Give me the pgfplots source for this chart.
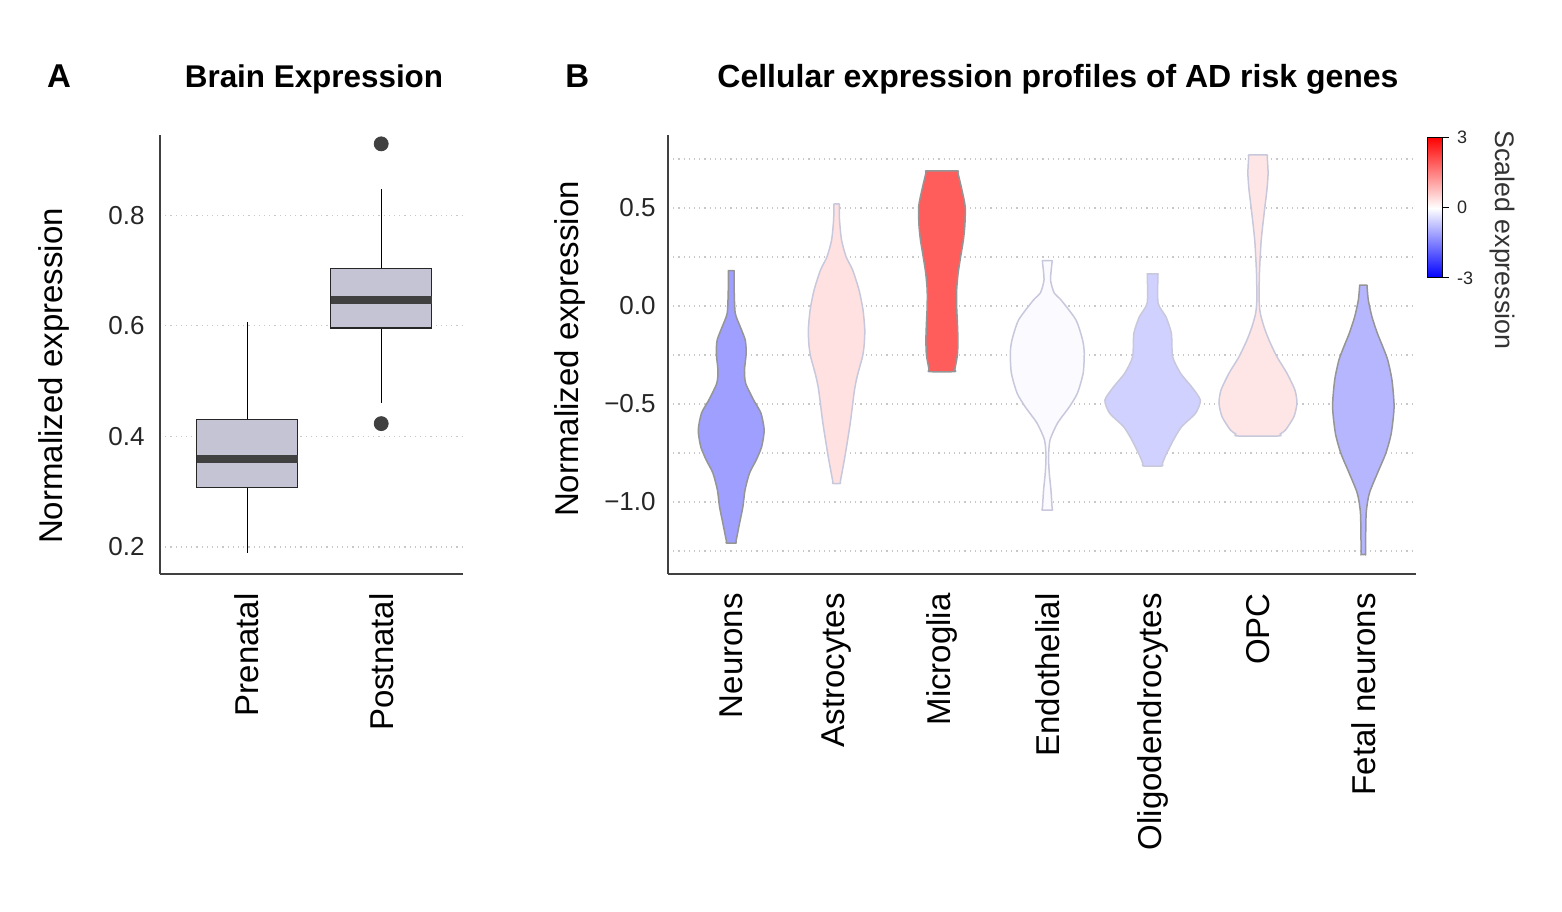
\documentclass[border=0pt]{standalone}
\usepackage{fontspec}
\setmainfont{Liberation Sans}
\usepackage{pgfplots}
\pgfplotsset{compat=1.18}
\usepackage{pgfplotstable}
\usepgfplotslibrary{statistics}

\definecolor{axisgray}{HTML}{404040}
\definecolor{boxfill}{HTML}{C5C4D4}
\definecolor{gridgray}{HTML}{C8C8C8}
\definecolor{edgegray}{HTML}{959595}
\definecolor{edgelight}{HTML}{C8C8DC}
\definecolor{cNeur}{HTML}{9E9FFE}
\definecolor{cAstro}{HTML}{FFE1E1}
\definecolor{cMicro}{HTML}{FF5C5C}
\definecolor{cEndo}{HTML}{FAFAFF}
\definecolor{cOligo}{HTML}{D1D1FF}
\definecolor{cOPC}{HTML}{FFE6E6}
\definecolor{cFetal}{HTML}{B6B6FF}

% violin outlines: y and offset d from the centre
% (top centre, right side down, left side up, back to top centre)
\pgfplotstableread{
y d
0.180 0.000
0.180 0.027
0.170 0.027
0.082 0.028
-0.036 0.038
-0.105 0.085
-0.173 0.133
-0.241 0.142
-0.327 0.126
-0.394 0.137
-0.480 0.213
-0.546 0.282
-0.633 0.313
-0.718 0.289
-0.786 0.237
-0.852 0.174
-0.939 0.131
-1.024 0.111
-1.109 0.079
-1.199 0.046
-1.209 0.045
-1.209 -0.045
-1.199 -0.046
-1.109 -0.079
-1.024 -0.111
-0.939 -0.131
-0.852 -0.174
-0.786 -0.237
-0.718 -0.289
-0.633 -0.313
-0.546 -0.282
-0.480 -0.213
-0.394 -0.137
-0.327 -0.126
-0.241 -0.142
-0.173 -0.133
-0.105 -0.085
-0.036 -0.038
0.082 -0.028
0.170 -0.027
0.180 -0.027
0.180 0.000
}\neurons
\pgfplotstableread{
y d
0.520 0.000
0.520 0.026
0.510 0.026
0.439 0.028
0.337 0.047
0.252 0.090
0.184 0.152
0.082 0.213
-0.020 0.251
-0.122 0.268
-0.199 0.262
-0.259 0.246
-0.352 0.199
-0.429 0.170
-0.597 0.130
-0.769 0.079
-0.895 0.036
-0.905 0.035
-0.905 -0.035
-0.895 -0.036
-0.769 -0.079
-0.597 -0.130
-0.429 -0.170
-0.352 -0.199
-0.259 -0.246
-0.199 -0.262
-0.122 -0.268
-0.020 -0.251
0.082 -0.213
0.184 -0.152
0.252 -0.090
0.337 -0.047
0.439 -0.028
0.510 -0.026
0.520 -0.026
0.520 0.000
}\astro
\pgfplotstableread{
y d
0.689 0.000
0.689 0.150
0.679 0.152
0.592 0.190
0.507 0.221
0.413 0.218
0.337 0.204
0.252 0.178
0.168 0.154
0.082 0.140
-0.004 0.140
-0.087 0.147
-0.173 0.152
-0.250 0.147
-0.325 0.122
-0.335 0.120
-0.335 -0.120
-0.325 -0.122
-0.250 -0.147
-0.173 -0.152
-0.087 -0.147
-0.004 -0.140
0.082 -0.140
0.168 -0.154
0.252 -0.178
0.337 -0.204
0.413 -0.218
0.507 -0.221
0.592 -0.190
0.679 -0.152
0.689 -0.150
0.689 0.000
}\micro
\pgfplotstableread{
y d
0.231 0.000
0.231 0.045
0.221 0.045
0.133 0.031
0.066 0.066
0.031 0.130
-0.071 0.272
-0.173 0.335
-0.240 0.351
-0.342 0.341
-0.444 0.287
-0.515 0.209
-0.597 0.098
-0.684 0.026
-0.770 0.012
-0.852 0.019
-0.939 0.035
-1.031 0.046
-1.041 0.047
-1.041 -0.047
-1.031 -0.046
-0.939 -0.035
-0.852 -0.019
-0.770 -0.012
-0.684 -0.026
-0.597 -0.098
-0.515 -0.209
-0.444 -0.287
-0.342 -0.341
-0.240 -0.351
-0.173 -0.335
-0.071 -0.272
0.031 -0.130
0.066 -0.066
0.133 -0.031
0.221 -0.045
0.231 -0.045
0.231 0.000
}\endo
\pgfplotstableread{
y d
0.163 0.000
0.163 0.050
0.153 0.050
0.014 0.052
-0.055 0.126
-0.139 0.178
-0.259 0.190
-0.343 0.265
-0.412 0.370
-0.480 0.453
-0.547 0.408
-0.616 0.275
-0.684 0.197
-0.769 0.118
-0.806 0.092
-0.816 0.090
-0.816 -0.090
-0.806 -0.092
-0.769 -0.118
-0.684 -0.197
-0.616 -0.275
-0.547 -0.408
-0.480 -0.453
-0.412 -0.370
-0.343 -0.265
-0.259 -0.190
-0.139 -0.178
-0.055 -0.126
0.014 -0.052
0.153 -0.050
0.163 -0.050
0.163 0.000
}\oligo
\pgfplotstableread{
y d
0.770 0.000
0.770 0.087
0.760 0.088
0.677 0.096
0.592 0.085
0.507 0.066
0.337 0.031
0.167 0.014
0.031 0.011
-0.037 0.022
-0.106 0.057
-0.173 0.104
-0.259 0.180
-0.343 0.275
-0.429 0.351
-0.496 0.370
-0.565 0.341
-0.633 0.261
-0.653 0.210
-0.663 0.197
-0.663 -0.197
-0.653 -0.210
-0.633 -0.261
-0.565 -0.341
-0.496 -0.370
-0.429 -0.351
-0.343 -0.275
-0.259 -0.180
-0.173 -0.104
-0.106 -0.057
-0.037 -0.022
0.031 -0.011
0.167 -0.014
0.337 -0.031
0.507 -0.066
0.592 -0.085
0.677 -0.096
0.760 -0.088
0.770 -0.087
0.770 0.000
}\opc
\pgfplotstableread{
y d
0.106 0.000
0.106 0.036
0.096 0.036
0.031 0.047
-0.055 0.082
-0.139 0.133
-0.208 0.185
-0.276 0.232
-0.378 0.272
-0.514 0.292
-0.650 0.265
-0.752 0.213
-0.854 0.133
-0.956 0.057
-1.058 0.027
-1.257 0.021
-1.267 0.021
-1.267 -0.021
-1.257 -0.021
-1.058 -0.027
-0.956 -0.057
-0.854 -0.133
-0.752 -0.213
-0.650 -0.265
-0.514 -0.292
-0.378 -0.272
-0.276 -0.232
-0.208 -0.185
-0.139 -0.133
-0.055 -0.082
0.031 -0.047
0.096 -0.036
0.106 -0.036
0.106 0.000
}\fetal

% #1 table, #2 position, #3 fill, #4 edge
\newcommand{\violin}[4]{%
  \addplot[fill=#3, draw=#4, line width=0.75pt, line join=round, smooth, tension=0.4]
    table[x expr={#2+\thisrow{d}}, y=y] {#1};
}

\pgfplotsset{
  panel/.style={
    scale only axis, anchor=south west,
    axis lines*=left,
    x axis line style={-}, y axis line style={-},
    axis line style={axisgray, line width=0.75pt},
    major tick length=0pt, minor tick length=0pt,
    grid style={gridgray, line width=0.6pt, dash pattern=on 0.6pt off 2pt},
    minor grid style={gridgray, line width=0.6pt, dash pattern=on 0.6pt off 2pt},
    ymajorgrids,
    tick label style={text=black!85},
    yticklabel style={anchor=east, inner sep=0pt, font=\fontsize{13}{15}\selectfont},
    xticklabel style={rotate=90, anchor=east, inner sep=0pt, font=\fontsize{16.5}{19}\selectfont, text=black},
    xticklabel shift=9.5pt,
    label style={font=\fontsize{16.5}{19}\selectfont},
  },
}

\begin{document}
\begin{tikzpicture}
\useasboundingbox (0,0) rectangle (781pt,455.5pt);

% ---- A: box plot
\begin{axis}[panel,
  at={(80pt,168.5pt)}, width=151.5pt, height=219.5pt,
  xmin=-0.65, xmax=1.61, ymin=0.151, ymax=0.945,
  xtick={0,1}, xticklabels={Prenatal,Postnatal},
  ytick={0.2,0.4,0.6,0.8}, yticklabels={0.2,0.4,0.6,0.8},
  yticklabel shift=7.5pt,
  ylabel={Normalized expression},
  ylabel style={at={(axis description cs:-0.3234,0.451)}, anchor=base},
  boxplot/draw direction=y,
  boxplot/every median/.style={draw=axisgray, line width=4pt},
  boxplot/every whisker/.style={draw=black, line width=0.6pt},
  boxplot/every box/.style={draw=black!85, fill=boxfill, line width=0.6pt},
]
\addplot[boxplot prepared={draw position=0, lower whisker=0.189,
  lower quartile=0.307, median=0.359, upper quartile=0.430,
  upper whisker=0.607, box extend=0.754, whisker extend=0}] coordinates {};
\addplot[mark=*, mark size=3.5pt, mark options={draw=axisgray, fill=axisgray},
  boxplot prepared={draw position=1, lower whisker=0.461,
  lower quartile=0.596, median=0.647, upper quartile=0.703,
  upper whisker=0.848, box extend=0.754, whisker extend=0}]
  table[row sep=\\, y index=0] {v\\ 0.929\\ 0.423\\};
\end{axis}

% ---- B: violins
\begin{axis}[panel,
  at={(334pt,168.5pt)}, width=374pt, height=219.5pt,
  xmin=-0.6, xmax=6.5, ymin=-1.367, ymax=0.872,
  xtick={0,...,6},
  xticklabels={Neurons,Astrocytes,Microglia,Endothelial,Oligodendrocytes,OPC,Fetal neurons},
  ytick={-1,-0.5,0,0.5}, yticklabels={−1.0,−0.5,0.0,0.5},
  minor ytick={-1.25,-0.75,-0.25,0.25,0.75}, yminorgrids,
  yticklabel shift=6pt,
  ylabel={Normalized expression},
  ylabel style={at={(axis description cs:-0.1190,0.5125)}, anchor=base},
]
\violin{\neurons}{0}{cNeur}{edgegray}
\violin{\astro}{1}{cAstro}{edgelight}
\violin{\micro}{2}{cMicro}{edgegray}
\violin{\endo}{3}{cEndo}{edgelight}
\violin{\oligo}{4}{cOligo}{edgelight}
\violin{\opc}{5}{cOPC}{edgelight}
\violin{\fetal}{6}{cFetal}{edgegray}
\end{axis}

% ---- colour scale
\begin{axis}[
  at={(713.5pt,316.5pt)}, anchor=south west,
  scale only axis, width=7.5pt, height=70.5pt,
  xmin=0, xmax=1, ymin=-3, ymax=3,
  xtick=\empty,
  ytick={-3,0,3}, yticklabels={-3,0,3},
  ytick pos=right, ytick align=outside,
  major tick length=3.3pt,
  tick style={black, line width=0.5pt},
  axis line style={black, line width=0.5pt},
  yticklabel style={font=\fontsize{9}{10}\selectfont, inner sep=0pt, text=black!85},
  yticklabel shift=4pt,
  enlargelimits=false,
  colormap={bwr}{rgb255=(0,0,255) rgb255=(255,255,255) rgb255=(255,0,0)},
  axis on top,
]
\addplot[surf, shader=interp, point meta=y] coordinates {
  (0,-3) (1,-3)

  (0,0) (1,0)

  (0,3) (1,3)
};
\end{axis}

\node[rotate=-90, anchor=base west, inner sep=0pt, font=\fontsize{13.4}{15}\selectfont, text=black!80]
  at (747.5pt,390.5pt) {Scaled expression};

\node[anchor=base west, inner sep=0pt, font=\fontsize{16.5}{18}\selectfont\bfseries] at (23.3pt,411.5pt) {A};
\node[anchor=base, inner sep=0pt, font=\fontsize{15.7}{18}\selectfont\bfseries] at (157pt,411.5pt) {Brain Expression};
\node[anchor=base west, inner sep=0pt, font=\fontsize{16.5}{18}\selectfont\bfseries] at (282.5pt,411.5pt) {B};
\node[anchor=base, inner sep=0pt, font=\fontsize{16}{18}\selectfont\bfseries] at (529pt,411.5pt) {Cellular expression profiles of AD risk genes};
\end{tikzpicture}
\end{document}
